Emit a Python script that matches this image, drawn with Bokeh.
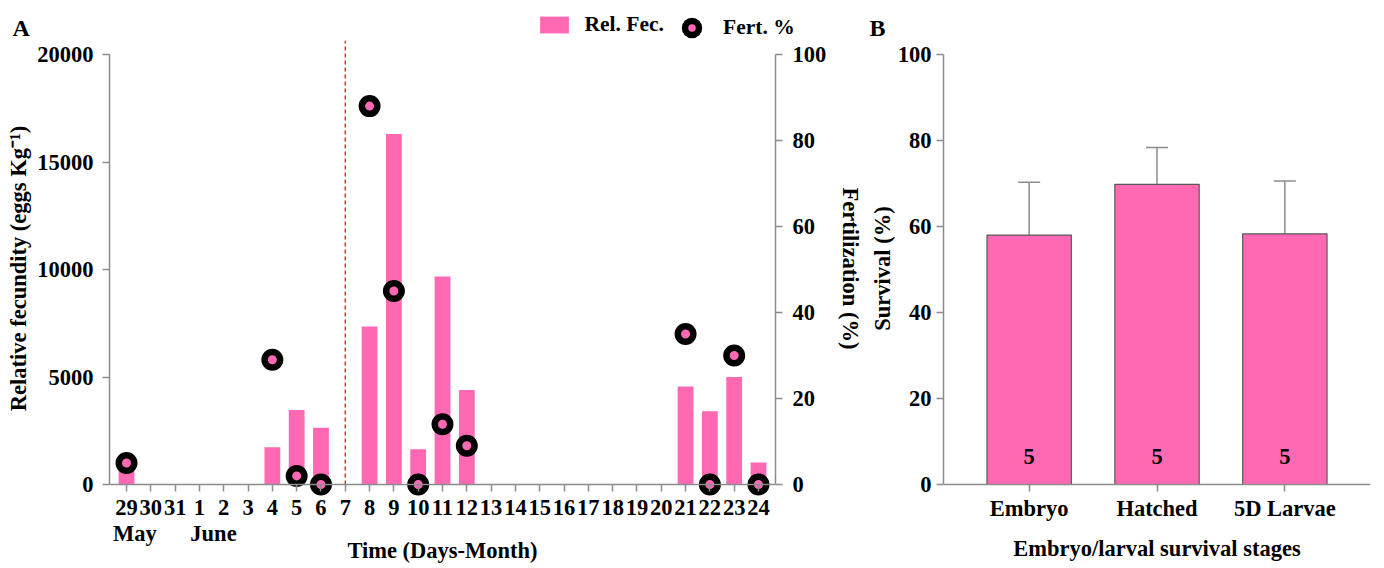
from bokeh.plotting import figure
from bokeh.models import (Range1d, LinearAxis, FixedTicker, Legend, LegendItem,
                          Label, Whisker, ColumnDataSource, TeeHead, Span)
from bokeh.layouts import row, column
from bokeh.embed import file_html
from bokeh.resources import INLINE
from bokeh.core.properties import value

# ---------------- data ----------------
days = ["29", "30", "31", "1", "2", "3", "4", "5", "6", "7", "8", "9", "10", "11",
        "12", "13", "14", "15", "16", "17", "18", "19", "20", "21", "22", "23", "24"]
month_starts = {"29": "May", "1": "June"}
rel_fec = [1000, 0, 0, 0, 0, 0, 1730, 3460, 2640, 0, 7350, 16300, 1640, 9680,
           4390, 0, 0, 0, 0, 0, 0, 0, 0, 4560, 3410, 5000, 1020]
fert_days = ["29", "4", "5", "6", "8", "9", "10", "11", "12", "21", "22", "23", "24"]
fert_pct = [5, 29, 2, 0, 88, 45, 0, 14, 9, 35, 0, 30, 0]
break_day = "7"
fec_ticks = [0, 5000, 10000, 15000, 20000]
fert_ticks = [0, 20, 40, 60, 80, 100]

stages = ["Embryo", "Hatched", "5D Larvae"]
survival = [58.0, 69.8, 58.3]
survival_err = [12.3, 8.6, 12.3]
n_obs = [5, 5, 5]
surv_ticks = [0, 20, 40, 60, 80, 100]

# ---------------- style / layout ----------------
PINK = "#FF69B4"
AXC = "#8c8c8c"
FONT = "Liberation Serif"
FS = "22.5px"
NB = "\u00a0"
month_pad = {"May": 3, "June": 5}
NAN = float("nan")

W, H = 1384, 568
HEADER = 40                     # strip holding panel letters and legend
PH = H - HEADER                 # height of the two chart canvases
FRAME_BOTTOM = 496 - HEADER     # canvas px of frame bottom
ZERO_PX = 484 - HEADER          # canvas px of value 0
TOP_PX = 54 - HEADER            # canvas px of axis maximum
BORDER_BOTTOM = PH - FRAME_BOTTOM


def style_axis(ax, standoff=8, label_standoff=6):
    ax.axis_line_color = AXC
    ax.axis_line_width = 1.5
    ax.major_tick_line_color = AXC
    ax.major_tick_line_width = 1.5
    ax.major_tick_out = 7
    ax.major_tick_in = 0
    ax.minor_tick_line_color = None
    ax.major_label_text_font = FONT
    ax.major_label_text_font_size = FS
    ax.major_label_text_font_style = "bold"
    ax.major_label_text_color = "black"
    ax.major_label_standoff = standoff
    ax.axis_label_text_font = FONT
    ax.axis_label_text_font_size = FS
    ax.axis_label_text_font_style = "bold"
    ax.axis_label_text_color = "black"
    ax.axis_label_standoff = label_standoff


def style_xaxis(ax, standoff, label_standoff):
    """x axis sits at frame bottom; its line is drawn as a Span at zero,
    ticks reach from the zero line downwards."""
    style_axis(ax, standoff=standoff, label_standoff=label_standoff)
    ax.axis_line_color = None
    ax.major_tick_in = FRAME_BOTTOM - ZERO_PX
    ax.major_tick_out = -(FRAME_BOTTOM - ZERO_PX - 7)


# ---------------- header strip (panel letters + legend) ----------------
hdr = figure(width=W, height=HEADER, output_backend="svg", toolbar_location=None,
             x_axis_type=None, y_axis_type=None, x_range=Range1d(0, 1),
             y_range=Range1d(0, 1), min_border=0)
hdr.outline_line_color = None
hdr.grid.visible = False
# legend keys only (no visible data in the header strip)
key_bar = hdr.vbar(x=[NAN], top=[NAN], width=0.5, fill_color=PINK, line_color=None)
key_pt = hdr.scatter(x=[NAN], y=[NAN], fill_color=PINK, line_color="black",
                     line_width=6.5)

leg_kw = dict(padding=0, margin=0, spacing=0, background_fill_alpha=0,
              border_line_alpha=0, label_text_font=FONT, label_text_font_size="21.5px",
              label_text_font_style="bold", label_text_color="black")
leg1 = Legend(items=[LegendItem(label="Rel. Fec.", renderers=[key_bar])],
              location=(535.5, HEADER - 13 - 24), glyph_width=36, glyph_height=21,
              label_standoff=13, **leg_kw)
leg2 = Legend(items=[LegendItem(label="Fert. %", renderers=[key_pt])],
              location=(674, HEADER - 10 - 35), glyph_width=35, glyph_height=35,
              label_standoff=14, **leg_kw)
hdr.add_layout(leg1, "center")
hdr.add_layout(leg2, "center")
for x, t in [(12, "A"), (869, "B")]:
    hdr.add_layout(Label(x=x, y=HEADER - 27, x_units="screen", y_units="screen",
                         text=t, text_font=FONT, text_font_size="24px",
                         text_font_style="bold", text_baseline="middle",
                         text_color="black"))

# ---------------- panel A ----------------
px_per_egg = (ZERO_PX - TOP_PX) / 20000
px_per_pct = (ZERO_PX - TOP_PX) / 100
lo_pad = FRAME_BOTTOM - ZERO_PX
hi_pad = ZERO_PX

xi = list(range(len(days)))
pA = figure(width=866, height=PH, output_backend="svg", toolbar_location=None,
            x_range=Range1d(-0.7, 26.7),
            y_range=Range1d(-lo_pad / px_per_egg, hi_pad / px_per_egg),
            min_border_left=109, min_border_right=86, min_border_top=0,
            min_border_bottom=BORDER_BOTTOM)
pA.outline_line_color = None
pA.grid.visible = False
pA.extra_y_ranges = {"fert": Range1d(-lo_pad / px_per_pct, hi_pad / px_per_pct)}

r_bar = pA.vbar(x=xi, top=rel_fec, width=0.65, fill_color=PINK, line_color=None)

bx = days.index(break_day)
pA.segment(x0=[bx], y0=[0], x1=[bx], y1=[hi_pad / px_per_egg],
           line_color="#ff2020", line_width=1.4, line_dash="4 3")

fx = [days.index(d) for d in fert_days]
r_pt = pA.scatter(x=fx, y=fert_pct, y_range_name="fert", size=15.5, fill_color=PINK,
                  line_color="black", line_width=6.5)

pA.add_layout(Span(location=0, dimension="width", line_color=AXC, line_width=1.5))

tick_text = {}
for i, d in enumerate(days):
    m = month_starts.get(d)
    tick_text[i] = d if m is None else d + "\n" + NB * month_pad[m] + m

xa = pA.xaxis[0]
xa.ticker = FixedTicker(ticks=xi)
xa.major_label_overrides = tick_text
xa.major_label_text_line_height = 1.05
xa.axis_label = "Time (Days-Month)"
style_xaxis(xa, standoff=-2, label_standoff=-11)

ya = pA.yaxis[0]
ya.ticker = FixedTicker(ticks=fec_ticks)
ya.bounds = (0, 20000)
ya.axis_label = "Relative fecundity (eggs Kg\u207b\u00b9)"
style_axis(ya, standoff=9, label_standoff=3)

ra = LinearAxis(y_range_name="fert", ticker=FixedTicker(ticks=fert_ticks),
                bounds=(0, 100), axis_label="Fertilization (%)")
style_axis(ra, standoff=10, label_standoff=9)
pA.add_layout(ra, "right")

# ---------------- panel B ----------------
bxi = list(range(len(stages)))
pB = figure(width=W - 866, height=PH, output_backend="svg", toolbar_location=None,
            x_range=Range1d(-0.67, 2.67),
            y_range=Range1d(-lo_pad / px_per_pct, hi_pad / px_per_pct),
            min_border_left=76, min_border_right=14, min_border_top=0,
            min_border_bottom=BORDER_BOTTOM)
pB.outline_line_color = None
pB.grid.visible = False

src = ColumnDataSource(dict(x=bxi, top=survival,
                            upper=[s + e for s, e in zip(survival, survival_err)],
                            n=[str(v) for v in n_obs], ny=[6.5] * len(n_obs)))
pB.add_layout(Whisker(source=src, base="x", lower="top", upper="upper",
                      line_color=AXC, line_width=1.5, lower_head=None,
                      upper_head=TeeHead(size=22, line_color=AXC, line_width=1.5)))
pB.vbar(x="x", top="top", width=0.66, source=src, fill_color=PINK,
        line_color="#5a5a5a", line_width=1.2)
pB.text(x="x", y="ny", text="n", source=src, text_align="center",
        text_baseline="alphabetic", text_font=value(FONT), text_font_size="22.5px",
        text_font_style="bold", text_color="black")
pB.add_layout(Span(location=0, dimension="width", line_color=AXC, line_width=1.5))

bxa = pB.xaxis[0]
bxa.ticker = FixedTicker(ticks=bxi)
bxa.major_label_overrides = {i: s for i, s in enumerate(stages)}
bxa.axis_label = "Embryo/larval survival stages"
style_xaxis(bxa, standoff=-1, label_standoff=12)

bya = pB.yaxis[0]
bya.ticker = FixedTicker(ticks=surv_ticks)
bya.bounds = (0, 100)
bya.axis_label = "Survival (%)"
style_axis(bya, standoff=5, label_standoff=0)

layout = column(hdr, row(pA, pB))
open("out.html", "w").write(file_html(layout, INLINE))
